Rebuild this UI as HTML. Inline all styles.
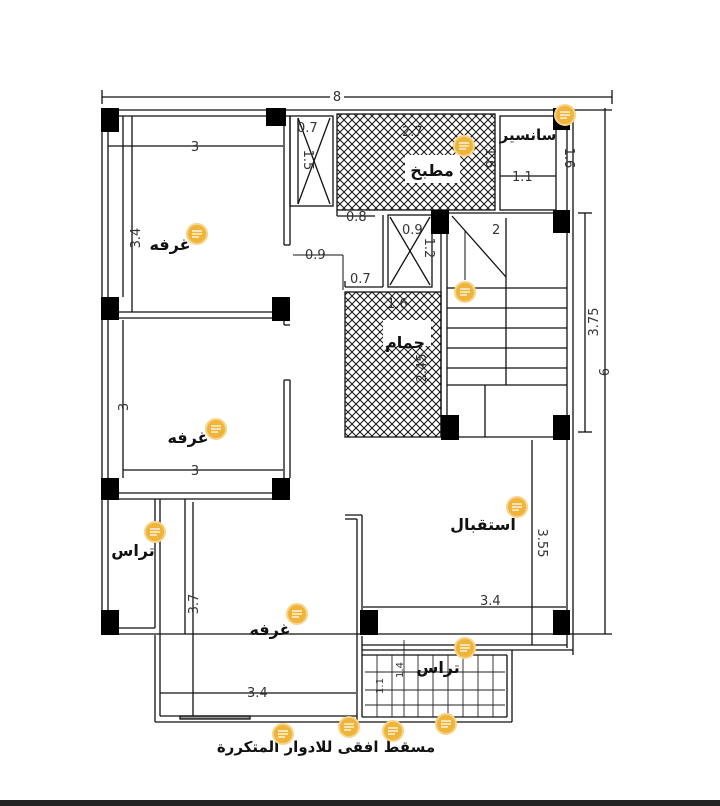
<!DOCTYPE html>
<html><head><meta charset="utf-8"><style>
html,body{margin:0;padding:0;background:#fff;}
svg{display:block}
text{font-family:"DejaVu Sans","Liberation Sans",sans-serif;}
</style></head><body>
<svg width="720" height="806" viewBox="0 0 720 806" xmlns="http://www.w3.org/2000/svg">
<defs>
<pattern id="hx" width="8" height="8" patternUnits="userSpaceOnUse">
<path d="M0 0L8 8M8 0L0 8" stroke="#111" stroke-width="1"/>
</pattern>
</defs>
<rect width="720" height="806" fill="#fff"/>
<rect x="0" y="800" width="720" height="6" fill="#222"/>
<g stroke="#111" stroke-width="1.3" fill="none">
<!-- top dimension -->
<line x1="102" y1="97" x2="612" y2="97"/>
<line x1="102" y1="90" x2="102" y2="104"/>
<line x1="612" y1="90" x2="612" y2="104"/>
<line x1="570" y1="110" x2="612" y2="110"/>
<!-- right dims -->
<line x1="605" y1="108" x2="605" y2="634"/>
<line x1="585" y1="213" x2="585" y2="432"/>
<line x1="578" y1="213" x2="592" y2="213"/>
<line x1="578" y1="432" x2="592" y2="432"/>
<!-- bottom long line -->
<line x1="102" y1="634" x2="612" y2="634"/>
<!-- outer left wall -->
<line x1="102" y1="108" x2="102" y2="632"/>
<line x1="108" y1="116" x2="108" y2="632"/>
<!-- top wall -->
<line x1="102" y1="110" x2="573" y2="110"/>
<line x1="108" y1="116" x2="290" y2="116"/>
<!-- right wall -->
<line x1="573" y1="108" x2="573" y2="655"/>
<line x1="567" y1="116" x2="567" y2="648"/>
<!-- left rooms inner lines -->
<line x1="123" y1="116" x2="123" y2="297"/>
<line x1="123" y1="320" x2="123" y2="478"/>
<!-- wall between rooms -->
<line x1="108" y1="312" x2="290" y2="312"/>
<line x1="108" y1="318" x2="290" y2="318"/>
<line x1="108" y1="493" x2="290" y2="493"/>
<line x1="108" y1="499" x2="290" y2="499"/>
<!-- vertical wall right of room1 -->
<line x1="284" y1="116" x2="284" y2="245"/>
<line x1="290" y1="116" x2="290" y2="245"/>
<line x1="284" y1="245" x2="290" y2="245"/>
<line x1="284" y1="320" x2="284" y2="325"/>
<line x1="284" y1="325" x2="290" y2="325"/>
<line x1="284" y1="380" x2="284" y2="478"/>
<line x1="290" y1="380" x2="290" y2="478"/>
<line x1="284" y1="380" x2="290" y2="380"/>
<!-- room dims -->
<line x1="108" y1="146" x2="283" y2="146"/>
<line x1="132" y1="116" x2="132" y2="312"/>
<line x1="123" y1="470" x2="283" y2="470"/>
<!-- shaft 1 -->
<rect x="290" y="116" width="43" height="90"/>
<line x1="298" y1="118" x2="298" y2="204"/>
<line x1="298" y1="118" x2="330" y2="204"/>
<line x1="330" y1="118" x2="298" y2="204"/>
<!-- kitchen -->
<rect x="337" y="114" width="158" height="96" fill="url(#hx)"/>
<line x1="337" y1="210" x2="337" y2="216"/>
<line x1="337" y1="216" x2="375" y2="216"/>
<!-- sanitary -->
<rect x="500" y="116" width="56" height="94"/>
<line x1="500" y1="176" x2="556" y2="176"/>
<!-- shaft 2 -->
<rect x="388" y="215" width="44" height="72"/>
<line x1="390" y1="217" x2="430" y2="285"/>
<line x1="430" y1="217" x2="390" y2="285"/>
<line x1="383" y1="215" x2="383" y2="287"/>
<line x1="345" y1="287" x2="383" y2="287"/>
<line x1="345" y1="281" x2="345" y2="287"/>
<!-- bathroom -->
<rect x="345" y="292" width="96" height="145" fill="url(#hx)"/>
<rect x="383" y="320" width="48" height="26" fill="#fff" stroke="none"/>
<!-- 0.9 dims -->
<line x1="293" y1="255" x2="343" y2="255" stroke-width="1"/>
<line x1="343" y1="255" x2="343" y2="290" stroke-width="1"/>
<!-- stairs -->
<line x1="447" y1="213" x2="567" y2="213"/>
<line x1="447" y1="218" x2="447" y2="437"/>
<line x1="441" y1="218" x2="441" y2="437"/>
<line x1="506" y1="218" x2="506" y2="385"/>
<line x1="452" y1="216" x2="506" y2="277"/>
<line x1="465" y1="230" x2="465" y2="280" stroke-width="1"/>
<line x1="447" y1="288" x2="567" y2="288"/>
<line x1="447" y1="308" x2="567" y2="308"/>
<line x1="447" y1="328" x2="567" y2="328"/>
<line x1="447" y1="348" x2="567" y2="348"/>
<line x1="447" y1="368" x2="567" y2="368"/>
<line x1="447" y1="385" x2="567" y2="385"/>
<line x1="485" y1="385" x2="485" y2="437"/>
<line x1="441" y1="437" x2="567" y2="437"/>
<!-- reception -->
<line x1="532" y1="440" x2="532" y2="645"/>
<line x1="363" y1="607" x2="566" y2="607"/>
<line x1="345" y1="515" x2="362" y2="515"/>
<line x1="345" y1="519" x2="357" y2="519"/>
<line x1="362" y1="515" x2="362" y2="612"/>
<line x1="357" y1="519" x2="357" y2="720"/>
<line x1="362" y1="636" x2="362" y2="717"/>
<line x1="362" y1="645" x2="567" y2="645"/>
<line x1="362" y1="650" x2="573" y2="650"/>
<!-- left terrace -->
<line x1="155" y1="499" x2="155" y2="628"/>
<line x1="108" y1="628" x2="155" y2="628"/>
<!-- bottom room -->
<line x1="155" y1="635" x2="155" y2="722"/>
<line x1="160" y1="499" x2="160" y2="716"/>
<line x1="185" y1="499" x2="185" y2="634"/>
<line x1="160" y1="716" x2="357" y2="716"/>
<line x1="155" y1="722" x2="512" y2="722"/>
<line x1="160" y1="693" x2="356" y2="693"/>
<line x1="193" y1="502" x2="193" y2="716"/>
<rect x="180" y="716" width="70" height="3" fill="#999"/>
<!-- balcony -->
<line x1="507" y1="655" x2="507" y2="717"/>
<line x1="512" y1="650" x2="512" y2="722"/>
<line x1="362" y1="717" x2="507" y2="717"/>
<line x1="362" y1="655" x2="507" y2="655"/>
</g>
<g stroke="#222" stroke-width="0.9">
<line x1="365" y1="672" x2="505" y2="672"/>
<line x1="365" y1="690" x2="505" y2="690"/>
<line x1="365" y1="705" x2="505" y2="705"/>
<line x1="377" y1="655" x2="377" y2="717"/>
<line x1="392" y1="655" x2="392" y2="717"/>
<line x1="404" y1="640" x2="404" y2="717"/>
<line x1="418" y1="655" x2="418" y2="717"/>
<line x1="433" y1="655" x2="433" y2="717"/>
<line x1="448" y1="655" x2="448" y2="717"/>
<line x1="463" y1="655" x2="463" y2="717"/>
<line x1="478" y1="655" x2="478" y2="717"/>
<line x1="493" y1="655" x2="493" y2="717"/>
</g>
<!-- columns -->
<g fill="#000">
<rect x="101" y="108" width="18" height="24"/>
<rect x="266" y="108" width="20" height="18"/>
<rect x="101" y="297" width="18" height="23"/>
<rect x="272" y="297" width="18" height="24"/>
<rect x="101" y="478" width="18" height="22"/>
<rect x="272" y="478" width="18" height="22"/>
<rect x="101" y="610" width="18" height="25"/>
<rect x="360" y="610" width="18" height="25"/>
<rect x="553" y="610" width="17" height="25"/>
<rect x="431" y="210" width="18" height="24"/>
<rect x="553" y="210" width="17" height="23"/>
<rect x="553" y="108" width="17" height="22"/>
<rect x="441" y="415" width="18" height="25"/>
<rect x="553" y="415" width="17" height="25"/>
</g>
<!-- dimension text -->
<g font-size="13" fill="#333" font-family="Liberation Sans, sans-serif">
<text x="336" y="101" text-anchor="middle" fill="#fff" stroke="none" font-size="1"> </text>
<rect x="330" y="88" width="14" height="14" fill="#fff"/>
<text x="337" y="101" text-anchor="middle" font-family="Liberation Sans">8</text>
<text x="195" y="151" text-anchor="middle">3</text>
<text x="195" y="475" text-anchor="middle">3</text>
<text x="297" y="132">0.7</text>
<text x="402" y="136">2.7</text>
<text x="512" y="181">1.1</text>
<text x="346" y="221">0.8</text>
<text x="402" y="234">0.9</text>
<text x="492" y="234">2</text>
<text x="305" y="259">0.9</text>
<text x="350" y="283">0.7</text>
<text x="387" y="308">1.6</text>
<text x="480" y="605">3.4</text>
<text x="247" y="697">3.4</text>
<text transform="translate(140,238) rotate(-90)" text-anchor="middle">3.4</text>
<text transform="translate(128,407) rotate(-90)" text-anchor="middle">3</text>
<text transform="translate(198,604) rotate(-90)" text-anchor="middle">3.7</text>
<text transform="translate(538,543) rotate(90)" text-anchor="middle">3.55</text>
<text transform="translate(598,322) rotate(-90)" text-anchor="middle">3.75</text>
<text transform="translate(599,372) rotate(90)" text-anchor="middle">9</text>
<text transform="translate(565,158) rotate(90)" text-anchor="middle">1.6</text>
<text transform="translate(486,158) rotate(90)" text-anchor="middle">1.6</text>
<text transform="translate(304,160) rotate(90)" text-anchor="middle">1.5</text>
<text transform="translate(425,248) rotate(90)" text-anchor="middle">1.2</text>
<text transform="translate(426,368) rotate(-90)" text-anchor="middle">2.45</text>
<text transform="translate(383,686) rotate(-90)" text-anchor="middle" font-size="10">1.1</text>
<text transform="translate(403,670) rotate(-90)" text-anchor="middle" font-size="10">1.4</text>
</g>
<!-- labels -->
<g font-size="16" fill="#111" font-family="DejaVu Sans, sans-serif" font-weight="bold">
<rect x="405" y="155" width="55" height="28" fill="#fff"/>
<text x="432" y="176" text-anchor="middle">مطبخ</text>
<text x="170" y="250" text-anchor="middle">غرفه</text>
<text x="188" y="443" text-anchor="middle">غرفه</text>
<text x="270" y="635" text-anchor="middle">غرفه</text>
<text x="405" y="348" text-anchor="middle">حمام</text>
<text x="483" y="530" text-anchor="middle">استقبال</text>
<text x="133" y="556" text-anchor="middle">تراس</text>
<text x="438" y="673" text-anchor="middle">تراس</text>
<text x="528" y="140" text-anchor="middle" font-size="15">سانسير</text>
<text x="326" y="752" text-anchor="middle" font-size="15">مسقط افقى للادوار المتكررة</text>
</g>
<!-- comment dots -->
<g fill="#efb43a" stroke="#f7d48a" stroke-width="2">
<circle cx="565" cy="115" r="10"/>
<circle cx="464" cy="146" r="10"/>
<circle cx="197" cy="234" r="10"/>
<circle cx="465" cy="292" r="10"/>
<circle cx="216" cy="429" r="10"/>
<circle cx="517" cy="507" r="10"/>
<circle cx="155" cy="532" r="10"/>
<circle cx="297" cy="614" r="10"/>
<circle cx="465" cy="648" r="10"/>
<circle cx="283" cy="734" r="10"/>
<circle cx="349" cy="727" r="10"/>
<circle cx="393" cy="731" r="10"/>
<circle cx="446" cy="724" r="10"/>
</g>
<g stroke="#fff" stroke-width="1.2">
<path d="M560 112h10M560 115h10M560 118h7"/>
<path d="M459 143h10M459 146h10M459 149h7"/>
<path d="M192 231h10M192 234h10M192 237h7"/>
<path d="M460 289h10M460 292h10M460 295h7"/>
<path d="M211 426h10M211 429h10M211 432h7"/>
<path d="M512 504h10M512 507h10M512 510h7"/>
<path d="M150 529h10M150 532h10M150 535h7"/>
<path d="M292 611h10M292 614h10M292 617h7"/>
<path d="M460 645h10M460 648h10M460 651h7"/>
<path d="M278 731h10M278 734h10M278 737h7"/>
<path d="M344 724h10M344 727h10M344 730h7"/>
<path d="M388 728h10M388 731h10M388 734h7"/>
<path d="M441 721h10M441 724h10M441 727h7"/>
</g>
</svg>
</body></html>
